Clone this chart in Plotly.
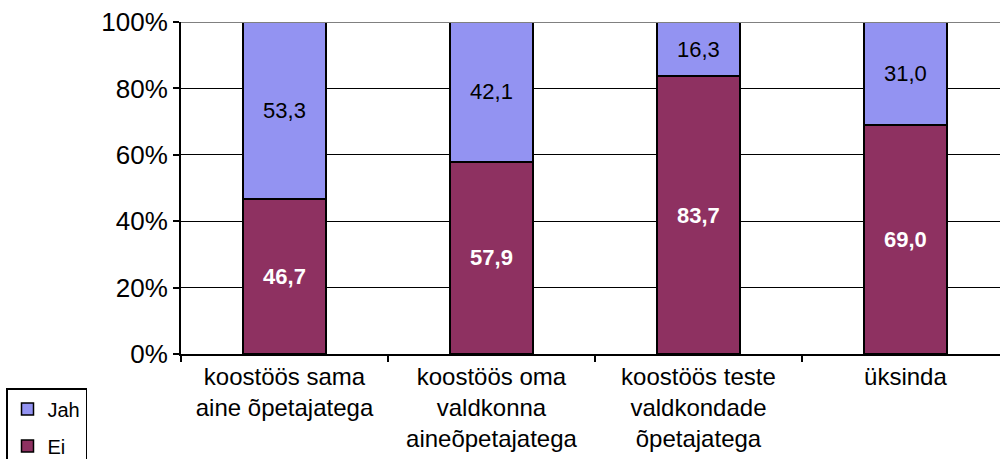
import plotly.graph_objects as go

categories = ["koostöös sama<br>aine õpetajatega", "koostöös oma<br>valdkonna<br>aineõpetajatega",
              "koostöös teste<br>valdkondade<br>õpetajatega", "üksinda"]
ei_values = [46.7, 57.9, 83.7, 69.0]
jah_values = [53.3, 42.1, 16.3, 31.0]
y_ticks = [0, 20, 40, 60, 80, 100]
y_tick_labels = ["0%", "20%", "40%", "60%", "80%", "100%"]

xpos = list(range(len(categories)))

def fmt(v):
    return f"{v:.1f}".replace(".", ",")

FONT = "Liberation Sans, Arial"

fig = go.Figure()
fig.add_trace(go.Bar(
    x=xpos, y=ei_values, name="Ei", width=0.4, legendgroup="ei", legendrank=2,
    marker=dict(color="#8E3161", line=dict(color="#000000", width=1.5)),
    text=[fmt(v) for v in ei_values], textposition="inside", insidetextanchor="middle",
    textfont=dict(color="white", size=22, family=FONT, weight="bold"),
    textangle=0,
))
fig.add_trace(go.Bar(
    x=xpos, y=jah_values, name="Jah", width=0.4, legendgroup="jah", legendrank=1,
    marker=dict(color="#9393F2", line=dict(color="#000000", width=1.5)),
    text=[fmt(v) for v in jah_values], textposition="inside", insidetextanchor="middle",
    textfont=dict(color="black", size=22, family=FONT),
    textangle=0,
))

fig.update_layout(
    barmode="stack",
    width=1000, height=459,
    margin=dict(l=181, r=0, t=22, b=105, autoexpand=False),
    paper_bgcolor="white", plot_bgcolor="white",
    font=dict(family=FONT, color="black"),
    showlegend=True,
    legend=dict(
        x=(6 - 181) / 819, y=(354 - 388) / 332, xanchor="left", yanchor="top",
        traceorder="grouped", tracegroupgap=8,
        bordercolor="black", borderwidth=1.5,
        font=dict(size=20), bgcolor="white", itemwidth=30,
    ),
    uniformtext=dict(mode=False),
)
fig.update_xaxes(
    range=[-0.5, 3.457], tickmode="array", tickvals=xpos, ticktext=categories,
    ticks="", tickfont=dict(size=24), showgrid=False, automargin=False,
    showline=True, linecolor="black", linewidth=2,
    minor=dict(tickmode="array", tickvals=[-0.5, 0.5, 1.5, 2.5, 3.5], ticks="outside",
               ticklen=6, tickcolor="black", tickwidth=2, showgrid=False),
    fixedrange=True,
)
fig.update_yaxes(
    range=[0, 100], tickmode="array", tickvals=y_ticks, ticktext=y_tick_labels,
    ticks="outside", ticklen=6, tickcolor="black", tickwidth=2, automargin=False,
    tickfont=dict(size=26), showgrid=True, gridcolor="black", gridwidth=1,
    showline=True, linecolor="black", linewidth=2, zeroline=False,
)
fig.add_hline(y=100, line=dict(color="#808080", width=2))

fig.write_html("out.html", post_script="document.body.style.margin='0';",
               config={"displayModeBar": False})
